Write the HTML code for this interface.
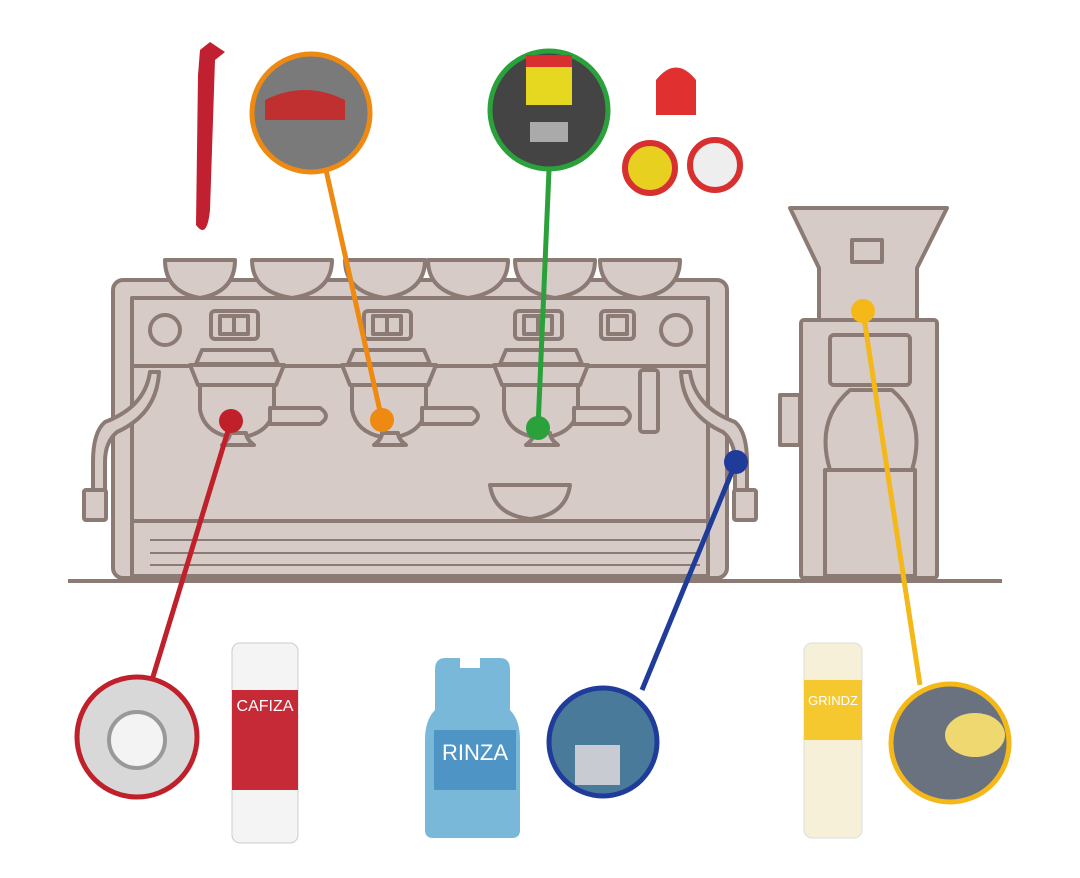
<!DOCTYPE html><html><head><style>body{margin:0;background:#fff}svg{display:block}</style></head><body>
<svg width="1080" height="878" viewBox="0 0 1080 878" xmlns="http://www.w3.org/2000/svg" font-family="Liberation Sans, sans-serif">
<g fill="#d7cbc8" stroke="#8c7a74" stroke-width="4" stroke-linejoin="round">
<!-- body -->
<rect x="113" y="280" width="614" height="298" rx="10"/>
<rect x="132" y="298" width="576" height="68"/>
<rect x="132" y="366" width="576" height="155"/>
<rect x="132" y="521" width="576" height="55"/>
<!-- cups on top -->
<path d="M165 260 h70 q0 32 -35 38 q-35 -6 -35 -38z"/>
<path d="M252 260 h80 q0 32 -40 38 q-40 -6 -40 -38z"/>
<path d="M345 260 h80 q0 32 -40 38 q-40 -6 -40 -38z"/>
<path d="M428 260 h80 q0 32 -40 38 q-40 -6 -40 -38z"/>
<path d="M515 260 h80 q0 32 -40 38 q-40 -6 -40 -38z"/>
<path d="M600 260 h80 q0 32 -40 38 q-40 -6 -40 -38z"/>
<!-- counter -->
<line x1="68" y1="581" x2="1002" y2="581"/>
<!-- switches -->
<rect x="211" y="311" width="47" height="28" rx="4"/><rect x="220" y="316" width="28" height="18"/><line x1="234" y1="316" x2="234" y2="334"/>
<rect x="364" y="311" width="47" height="28" rx="4"/><rect x="373" y="316" width="28" height="18"/><line x1="387" y1="316" x2="387" y2="334"/>
<rect x="515" y="311" width="47" height="28" rx="4"/><rect x="524" y="316" width="28" height="18"/><line x1="538" y1="316" x2="538" y2="334"/>
<rect x="601" y="311" width="33" height="28" rx="4"/><rect x="608" y="316" width="19" height="18"/>
<circle cx="165" cy="330" r="15"/><circle cx="676" cy="330" r="15"/>
<!-- group heads -->
<g id="gh"><path d="M202 350 h70 l6 14 h-82z"/><path d="M190 365 h94 l-8 20 h-78z"/><path d="M200 385 h74 v25 q-5 25 -37 28 q-32 -3 -37 -28z"/><path d="M270 408 h50 q12 8 0 16 h-50z"/><path d="M222 445 h32 q-8 -6 -8 -12 h-16 q0 6 -8 12z"/></g>
<use href="#gh" x="152"/><use href="#gh" x="304"/>
<rect x="640" y="370" width="18" height="62" rx="3"/>
<!-- cup bottom -->
<path d="M490 485 h80 q-4 30 -40 34 q-36 -4 -40 -34z"/>
<!-- steam wands -->
<path d="M150 372 q-5 35 -45 50 q-12 10 -12 40 v30 h12 v-30 q0 -20 12 -30 q40 -18 42 -60z"/>
<rect x="84" y="490" width="22" height="30" rx="2"/>
<path d="M690 372 q5 35 45 50 q12 10 12 40 v30 h-12 v-30 q0 -20 -12 -30 q-40 -18 -42 -60z"/>
<rect x="734" y="490" width="22" height="30" rx="2"/>
<!-- grinder -->
<path d="M790 208 h157 l-30 60 v52 h-98 v-52z"/>
<rect x="801" y="320" width="136" height="258" rx="3"/>
<rect x="830" y="335" width="80" height="50" rx="4"/>
<rect x="780" y="395" width="20" height="50"/>
<path d="M850 390 q-35 30 -20 80 h82 q15 -50 -20 -80z"/>
<rect x="825" y="470" width="90" height="106"/>
<rect x="852" y="240" width="30" height="22"/>
</g>
<g fill="none" stroke="#8c7a74" stroke-width="2">
<line x1="150" y1="540" x2="700" y2="540"/><line x1="150" y1="553" x2="700" y2="553"/><line x1="150" y1="565" x2="700" y2="565"/>
</g>
<!-- connectors -->
<g stroke-width="5" fill="none">
<line x1="231" y1="421" x2="152" y2="680" stroke="#c0202a"/>
<line x1="326" y1="170" x2="382" y2="420" stroke="#ee8a12"/>
<line x1="549" y1="170" x2="538" y2="428" stroke="#2aa13a"/>
<line x1="736" y1="462" x2="642" y2="690" stroke="#1f3c9a"/>
<line x1="863" y1="311" x2="920" y2="685" stroke="#f4b818"/>
</g>
<circle cx="231" cy="421" r="12" fill="#c0202a"/>
<circle cx="382" cy="420" r="12" fill="#ee8a12"/>
<circle cx="538" cy="428" r="12" fill="#2aa13a"/>
<circle cx="736" cy="462" r="12" fill="#1f3c9a"/>
<circle cx="863" cy="311" r="12" fill="#f4b818"/>
<!-- photo circles -->
<circle cx="137" cy="737" r="60" fill="#d8d8d8" stroke="#c0202a" stroke-width="5"/>
<circle cx="137" cy="740" r="28" fill="#f3f3f3" stroke="#999" stroke-width="4"/>
<circle cx="311" cy="113" r="59" fill="#7a7a7a" stroke="#ee8a12" stroke-width="5"/>
<path d="M265 100 q40 -20 80 0 v20 h-80z" fill="#c03030"/>
<circle cx="549" cy="110" r="59" fill="#444" stroke="#2aa13a" stroke-width="5"/>
<rect x="526" y="60" width="46" height="45" fill="#e6d820"/><rect x="526" y="55" width="46" height="12" fill="#d83030"/>
<rect x="530" y="122" width="38" height="20" fill="#aaa"/>
<circle cx="603" cy="742" r="54" fill="#4a7a9a" stroke="#1f3c9a" stroke-width="5"/>
<path d="M575 745 h45 v40 h-45z" fill="#c8ccd2"/>
<circle cx="950" cy="743" r="59" fill="#6a7280" stroke="#f4b818" stroke-width="5"/>
<ellipse cx="975" cy="735" rx="30" ry="22" fill="#f0d870"/>
<!-- products -->
<rect x="232" y="643" width="66" height="200" rx="8" fill="#f4f4f4" stroke="#ccc"/>
<rect x="232" y="690" width="66" height="100" fill="#c62a36"/>
<text x="265" y="711" font-size="16" fill="#fff" text-anchor="middle">CAFIZA</text>
<path d="M435 670 q0 -12 10 -12 h15 v10 h20 v-10 h20 q10 0 10 12 v40 q10 10 10 30 v90 q0 8 -8 8 h-79 q-8 0 -8 -8v-90q0 -20 10 -30z" fill="#7ab8da"/>
<rect x="434" y="730" width="82" height="60" fill="#4e95c6"/>
<text x="475" y="760" font-size="22" fill="#fff" text-anchor="middle">RINZA</text>
<rect x="804" y="643" width="58" height="195" rx="8" fill="#f6f0d8" stroke="#ddd"/>
<rect x="804" y="680" width="58" height="60" fill="#f6c830"/>
<text x="833" y="705" font-size="13" fill="#fff" text-anchor="middle">GRINDZ</text>
<!-- tools -->
<path d="M200 50 l10 -8 l15 10 l-10 8 l-5 150 q-3 30 -14 15 l2 -150z" fill="#c02030"/>
<path d="M656 80 q20 -25 40 0 v35 h-40z" fill="#e03030"/>
<circle cx="650" cy="168" r="25" fill="#e8d020" stroke="#d83030" stroke-width="6"/>
<circle cx="715" cy="165" r="25" fill="#eeeeee" stroke="#d83030" stroke-width="6"/>
</svg></body></html>
